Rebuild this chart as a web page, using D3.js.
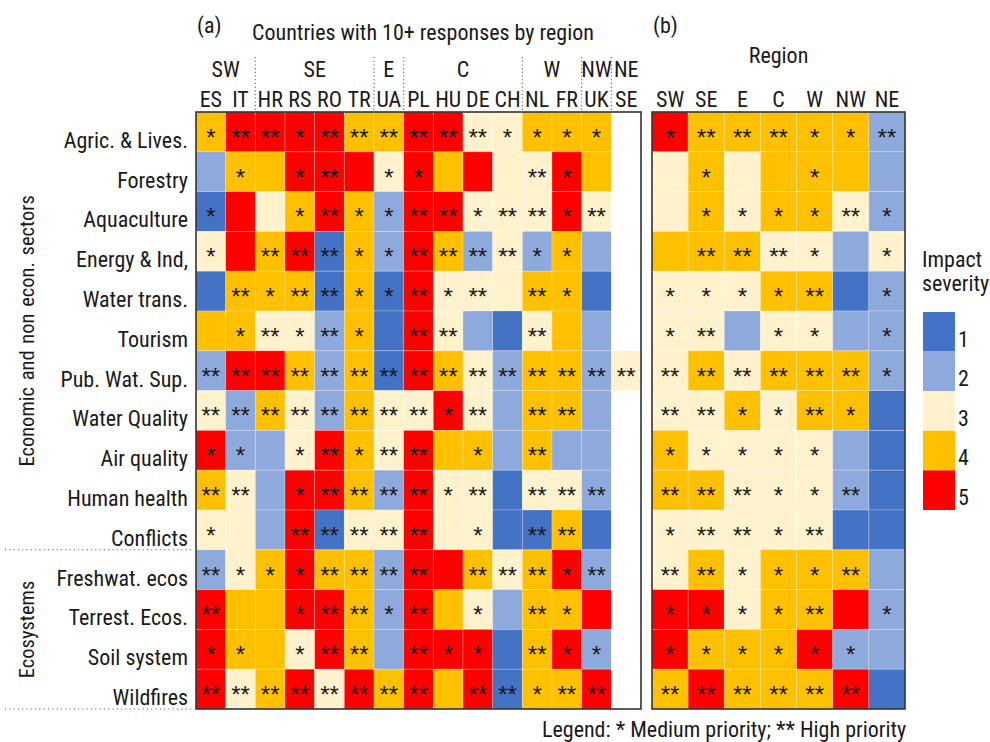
<!DOCTYPE html>
<html>
<head>
<meta charset="utf-8">
<script src="https://cdn.jsdelivr.net/npm/d3@7"></script>
<style>
  html, body { margin: 0; padding: 0; background: #fff; }
  svg { display: block; }
</style>
</head>
<body>
<svg id="chart" width="990" height="742"></svg>
<script>
// Sectors (rows), shared by both panels
const sectors = ["Agric. & Lives.", "Forestry", "Aquaculture", "Energy & Ind,", "Water trans.",
  "Tourism", "Pub. Wat. Sup.", "Water Quality", "Air quality", "Human health", "Conflicts",
  "Freshwat. ecos", "Terrest. Ecos.", "Soil system", "Wildfires"];

// Panel (a): countries and the region each belongs to
const countries = ["ES", "IT", "HR", "RS", "RO", "TR", "UA", "PL", "HU", "DE", "CH", "NL", "FR", "UK", "SE"];
const countryRegion = ["SW", "SW", "SE", "SE", "SE", "SE", "E", "C", "C", "C", "C", "W", "W", "NW", "NE"];

// Panel (b): regions
const regions = ["SW", "SE", "E", "C", "W", "NW", "NE"];

// Impact severity (1-5) per sector x country; null = no answer
const countrySeverity = [
  [4, 5, 5, 5, 5, 4, 4, 5, 5, 3, 3, 4, 4, 4, null],
  [2, 4, 4, 5, 5, 5, 3, 5, 4, 5, 3, 3, 5, 4, null],
  [1, 5, 3, 4, 5, 4, 2, 5, 5, 3, 3, 3, 5, 3, null],
  [3, 5, 4, 5, 1, 4, 2, 5, 4, 2, 3, 2, 4, 2, null],
  [1, 4, 4, 4, 1, 4, 1, 5, 3, 3, 3, 4, 4, 1, null],
  [4, 4, 3, 3, 2, 4, 1, 5, 3, 2, 1, 3, 4, 2, null],
  [2, 5, 5, 4, 2, 4, 1, 5, 4, 3, 2, 4, 4, 2, 3],
  [3, 2, 4, 3, 2, 4, 3, 3, 5, 3, 2, 4, 4, 2, null],
  [5, 2, 2, 3, 5, 4, 3, 5, 4, 4, 2, 4, 2, 2, null],
  [4, 3, 2, 5, 5, 4, 2, 5, 3, 3, 1, 3, 3, 2, null],
  [3, 3, 2, 5, 1, 3, 3, 5, 3, 3, 1, 1, 4, 1, null],
  [2, 3, 4, 5, 4, 4, 2, 5, 5, 4, 3, 4, 5, 2, null],
  [5, 4, 4, 5, 5, 4, 2, 5, 4, 3, 2, 4, 4, 5, null],
  [5, 4, 4, 3, 5, 4, 2, 5, 5, 5, 1, 4, 5, 2, null],
  [5, 3, 4, 5, 3, 5, 4, 5, 4, 5, 1, 4, 4, 5, null]
];

// Priority per sector x country: 0 none, 1 medium (*), 2 high (**)
const countryPriority = [
  [1, 2, 2, 1, 2, 2, 2, 2, 2, 2, 1, 1, 1, 1, 0],
  [0, 1, 0, 1, 2, 0, 1, 1, 0, 0, 0, 2, 1, 0, 0],
  [1, 0, 0, 1, 2, 1, 1, 2, 2, 1, 2, 2, 1, 2, 0],
  [1, 0, 2, 2, 2, 1, 1, 2, 2, 2, 2, 1, 1, 0, 0],
  [0, 2, 1, 2, 2, 1, 1, 2, 1, 2, 0, 2, 1, 0, 0],
  [0, 1, 2, 1, 2, 1, 0, 2, 2, 0, 0, 2, 0, 0, 0],
  [2, 2, 2, 2, 2, 2, 2, 2, 2, 2, 2, 2, 2, 2, 2],
  [2, 2, 2, 2, 2, 2, 2, 2, 1, 2, 0, 2, 2, 0, 0],
  [1, 1, 0, 1, 2, 1, 2, 2, 0, 1, 0, 2, 0, 0, 0],
  [2, 2, 0, 1, 2, 2, 2, 2, 1, 2, 0, 2, 2, 2, 0],
  [1, 0, 0, 2, 2, 2, 2, 2, 0, 1, 0, 2, 2, 0, 0],
  [2, 1, 1, 1, 2, 2, 2, 2, 0, 2, 2, 2, 1, 2, 0],
  [2, 0, 0, 1, 2, 2, 1, 2, 0, 1, 0, 2, 1, 0, 0],
  [1, 1, 0, 1, 2, 2, 0, 2, 1, 1, 0, 2, 1, 1, 0],
  [2, 2, 2, 2, 2, 2, 2, 2, 0, 2, 2, 1, 2, 2, 0]
];

// Impact severity per sector x region
const regionSeverity = [
  [5, 4, 4, 4, 4, 4, 2],
  [3, 4, 3, 4, 4, 4, 2],
  [3, 4, 3, 4, 4, 3, 2],
  [4, 4, 4, 3, 3, 2, 3],
  [3, 3, 3, 4, 4, 1, 2],
  [3, 3, 2, 3, 3, 2, 2],
  [3, 4, 3, 4, 4, 4, 2],
  [3, 3, 4, 3, 4, 4, 1],
  [4, 3, 3, 3, 3, 2, 1],
  [4, 4, 3, 3, 3, 2, 1],
  [3, 3, 3, 3, 3, 1, 1],
  [3, 4, 3, 4, 4, 4, 2],
  [5, 5, 3, 4, 4, 5, 2],
  [5, 4, 4, 4, 5, 2, 2],
  [4, 5, 4, 4, 4, 5, 1]
];

// Priority per sector x region
const regionPriority = [
  [1, 2, 2, 2, 1, 1, 2],
  [0, 1, 0, 0, 1, 0, 0],
  [0, 1, 1, 1, 1, 2, 1],
  [0, 2, 2, 2, 1, 0, 1],
  [1, 1, 1, 1, 2, 0, 1],
  [1, 2, 0, 1, 1, 0, 1],
  [2, 2, 2, 2, 2, 2, 1],
  [2, 2, 1, 1, 2, 1, 0],
  [1, 1, 1, 1, 1, 0, 0],
  [2, 2, 2, 1, 1, 2, 0],
  [1, 2, 2, 1, 2, 0, 0],
  [2, 2, 1, 1, 1, 2, 0],
  [1, 1, 1, 1, 2, 0, 1],
  [1, 1, 1, 1, 1, 1, 0],
  [2, 2, 2, 2, 2, 2, 0]
];

// Sector groups shown on the far left
const sectorGroups = [
  { name: "Economic and non econ. sectors", first: "Agric. & Lives.", last: "Conflicts" },
  { name: "Ecosystems", first: "Freshwat. ecos", last: "Wildfires" }
];

const severityLevels = [1, 2, 3, 4, 5];
const severityColors = ["#4472C4", "#8EA9DB", "#FFF2CC", "#FFC000", "#FF0000"];

const FONT = "'Liberation Sans Narrow', 'Roboto Condensed', 'DejaVu Sans Condensed', sans-serif";
const STAR_FONT = "'Liberation Sans', Arial, sans-serif";
const FS = 22;

const svg = d3.select("#chart");
const color = d3.scaleOrdinal().domain(severityLevels).range(severityColors);

const gridTop = 112, gridBottom = 709;
const y = d3.scaleBand().domain(sectors).range([gridTop, gridBottom]);
const xa = d3.scaleBand().domain(countries).range([196, 641]);
const xb = d3.scaleBand().domain(regions).range([652, 905]);

const starText = p => p === 2 ? "**" : p === 1 ? "*" : "";

function drawPanel(x, cols, sev, pri) {
  const cells = [];
  sectors.forEach((s, i) => cols.forEach((c, j) => {
    cells.push({ s, c, v: sev[i][j], p: pri[i][j] });
  }));
  const g = svg.append("g");
  g.selectAll("rect.cell").data(cells).join("rect")
    .attr("class", "cell")
    .attr("x", d => x(d.c)).attr("y", d => y(d.s))
    .attr("width", x.bandwidth()).attr("height", y.bandwidth())
    .attr("fill", d => d.v == null ? "#ffffff" : color(d.v))
    .attr("stroke", d => d.v == null ? "none" : "#ffffff")
    .attr("stroke-opacity", 0.3)
    .attr("stroke-width", 0.8);
  g.selectAll("text.star").data(cells.filter(d => d.p > 0)).join("text")
    .attr("class", "star")
    .attr("x", d => x(d.c) + x.bandwidth() / 2)
    .attr("y", d => y(d.s) + y.bandwidth() / 2)
    .attr("dy", "0.58em")
    .attr("text-anchor", "middle")
    .style("font-family", STAR_FONT)
    .style("font-size", "24px")
    .attr("fill", "#1a1a1a")
    .text(d => starText(d.p));
  const [x0, x1] = x.range();
  g.append("rect")
    .attr("x", x0).attr("y", gridTop)
    .attr("width", x1 - x0).attr("height", gridBottom - gridTop)
    .attr("fill", "none").attr("stroke", "#333").attr("stroke-width", 1.6);
}

drawPanel(xa, countries, countrySeverity, countryPriority);
drawPanel(xb, regions, regionSeverity, regionPriority);

const txt = (x, yy, s, size, anchor) => svg.append("text")
  .attr("x", x).attr("y", yy)
  .attr("text-anchor", anchor || "start")
  .style("font-family", FONT).style("font-size", (size || FS) + "px")
  .attr("fill", "#1a1a1a").text(s);

// Panel titles
txt(197, 33, "(a)");
txt(423, 40, "Countries with 10+ responses by region", FS, "middle");
txt(653, 33, "(b)");
txt(xb.range()[0] + (xb.range()[1] - xb.range()[0]) / 2, 63, "Region", FS, "middle");

// Column labels
countries.forEach(c => txt(xa(c) + xa.bandwidth() / 2, 107, c, FS, "middle"));
regions.forEach(r => txt(xb(r) + xb.bandwidth() / 2, 107, r, FS, "middle"));

// Region group headers over countries with dotted separators
const groups = [];
countries.forEach((c, i) => {
  const r = countryRegion[i];
  if (!groups.length || groups[groups.length - 1].r !== r) groups.push({ r, first: c, last: c });
  else groups[groups.length - 1].last = c;
});
groups.forEach((g, k) => {
  const gx0 = xa(g.first), gx1 = xa(g.last) + xa.bandwidth();
  txt((gx0 + gx1) / 2, 77, g.r, FS, "middle");
  if (k > 0) {
    svg.append("line")
      .attr("x1", gx0).attr("x2", gx0).attr("y1", 57).attr("y2", gridTop)
      .attr("stroke", "#555").attr("stroke-width", 1.1)
      .attr("stroke-dasharray", "1.1,2.6");
  }
});

// Row labels
sectors.forEach(s => txt(188, y(s) + y.bandwidth() - 4, s, FS, "end"));

// Sector group labels and dotted dividers
sectorGroups.forEach(g => {
  const gy0 = y(g.first), gy1 = y(g.last) + y.bandwidth();
  svg.append("text")
    .attr("transform", `translate(34,${(gy0 + gy1) / 2}) rotate(-90)`)
    .attr("text-anchor", "middle")
    .style("font-family", FONT).style("font-size", "20.5px")
    .style("word-spacing", "2px")
    .attr("fill", "#1a1a1a").text(g.name);
  svg.append("line")
    .attr("x1", 5).attr("x2", 194).attr("y1", gy1).attr("y2", gy1)
    .attr("stroke", "#555").attr("stroke-width", 1.1)
    .attr("stroke-dasharray", "1.1,3.2");
});

// Severity legend
txt(922, 267, "Impact");
txt(922, 291, "severity");
const ly = d3.scaleBand().domain(severityLevels).range([312, 510]);
const leg = svg.append("g");
leg.selectAll("rect").data(severityLevels).join("rect")
  .attr("x", 923).attr("y", d => ly(d))
  .attr("width", 32).attr("height", ly.bandwidth())
  .attr("fill", d => color(d));
leg.selectAll("text").data(severityLevels).join("text")
  .attr("x", 958).attr("y", d => ly(d) + ly.bandwidth() - 5)
  .style("font-family", FONT).style("font-size", FS + "px")
  .attr("fill", "#1a1a1a").text(d => d);

// Priority note
txt(542, 737, "Legend: * Medium priority; ** High priority");
</script>
</body>
</html>
